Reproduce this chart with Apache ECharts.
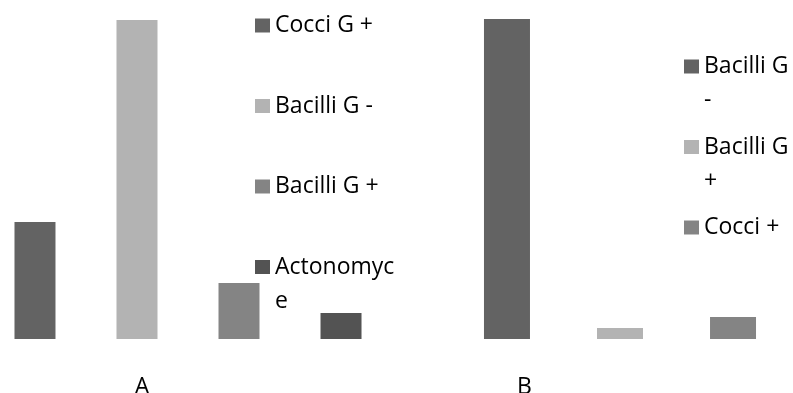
<!DOCTYPE html>
<html>
<head>
<meta charset="utf-8">
<script src="https://cdn.jsdelivr.net/npm/echarts@6/dist/echarts.min.js"></script>
<style>
html,body{margin:0;padding:0;background:#fff;}
#chart{width:793px;height:393px;}
</style>
</head>
<body>
<div id="chart"></div>
<script>
// ---- data ----
const categoriesA = ['A'];
const categoriesB = ['B'];
const seriesNamesA = ['Cocci G +', 'Bacilli G -', 'Bacilli G +', 'Actonomyce'];
const valuesA = [22.6, 61.6, 10.8, 5.0];
const seriesNamesB = ['Bacilli G -', 'Bacilli G +', 'Cocci +'];
const valuesB = [90.7, 3.1, 6.2];
const colorsA = ['#636363', '#b3b3b3', '#848484', '#535353'];
const colorsB = ['#636363', '#b3b3b3', '#848484'];

const FONT = '"Open Sans", "DejaVu Sans", sans-serif';
const FS = 23;
const LH = 34;

// word wrap measured with the real font
const ctx = document.createElement('canvas').getContext('2d');
function wrapText(text, maxW) {
  ctx.font = FS + 'px "Open Sans"';
  const m = s => ctx.measureText(s).width;
  const words = text.split(' ');
  const lines = [];
  let cur = '';
  for (const w of words) {
    const test = cur ? cur + ' ' + w : w;
    if (m(test) <= maxW) { cur = test; continue; }
    if (cur) lines.push(cur);
    cur = w;
    while (m(cur) > maxW && cur.length > 1) {
      let k = cur.length - 1;
      while (k > 1 && m(cur.slice(0, k)) > maxW) k--;
      lines.push(cur.slice(0, k));
      cur = cur.slice(k);
    }
  }
  if (cur) lines.push(cur);
  return lines;
}
// three-line block so the icon sits on the first real line
function legendLabel(name, maxW) {
  const label = name.split('|')[1];
  const lines = wrapText(label, maxW);
  return ' \n' + lines[0] + '\n' + (lines[1] || ' ');
}

const series = [];
seriesNamesA.forEach((n, i) => series.push({
  type: 'bar', name: 'A|' + n, xAxisIndex: 0, yAxisIndex: 0,
  data: [valuesA[i]], barWidth: 41, barGap: '148.8%',
  itemStyle: { color: colorsA[i] }
}));
seriesNamesB.forEach((n, i) => series.push({
  type: 'bar', name: 'B|' + n, xAxisIndex: 1, yAxisIndex: 1,
  data: [valuesB[i]], barWidth: 46, barGap: '145.7%',
  itemStyle: { color: colorsB[i] }
}));

const legendBase = {
  orient: 'vertical', icon: 'rect', itemWidth: 15, itemHeight: 14,
  padding: 0, itemGap: -21.5,
  textStyle: { fontFamily: FONT, fontSize: FS, lineHeight: LH, color: '#000' }
};

const xAxisBase = {
  type: 'category',
  axisLine: { show: false }, axisTick: { show: false },
  splitLine: { show: false },
  axisLabel: { fontFamily: FONT, fontSize: FS, color: '#000', margin: 37 }
};

const option = {
  animation: false,
  backgroundColor: '#fff',
  grid: [
    { left: 0, width: 376, top: 2.4, bottom: 54, containLabel: false, outerBoundsMode: 'none' },
    { left: 460, width: 320, top: 3.8, bottom: 54, containLabel: false, outerBoundsMode: 'none' }
  ],
  xAxis: [
    Object.assign({}, xAxisBase, { gridIndex: 0, data: categoriesA,
      axisLabel: Object.assign({}, xAxisBase.axisLabel, { padding: [0, 92, 0, 0] }) }),
    Object.assign({}, xAxisBase, { gridIndex: 1, data: categoriesB,
      axisLabel: Object.assign({}, xAxisBase.axisLabel, { padding: [0, 191, 0, 0] }) })
  ],
  yAxis: [
    { type: 'value', gridIndex: 0, min: 0, max: 65, show: false, splitLine: { show: false } },
    { type: 'value', gridIndex: 1, min: 0, max: 95, show: false, splitLine: { show: false } }
  ],
  legend: [
    Object.assign({}, legendBase, {
      left: 255, top: 25.5 - 51,
      data: seriesNamesA.map(n => 'A|' + n),
      formatter: name => legendLabel(name, 127)
    }),
    Object.assign({}, legendBase, {
      left: 684, top: 66.5 - 51,
      data: seriesNamesB.map(n => 'B|' + n),
      formatter: name => legendLabel(name, 90)
    })
  ],
  series: series
};

const chart = echarts.init(document.getElementById('chart'), null, { renderer: 'canvas' });
chart.setOption(option);
</script>
</body>
</html>
